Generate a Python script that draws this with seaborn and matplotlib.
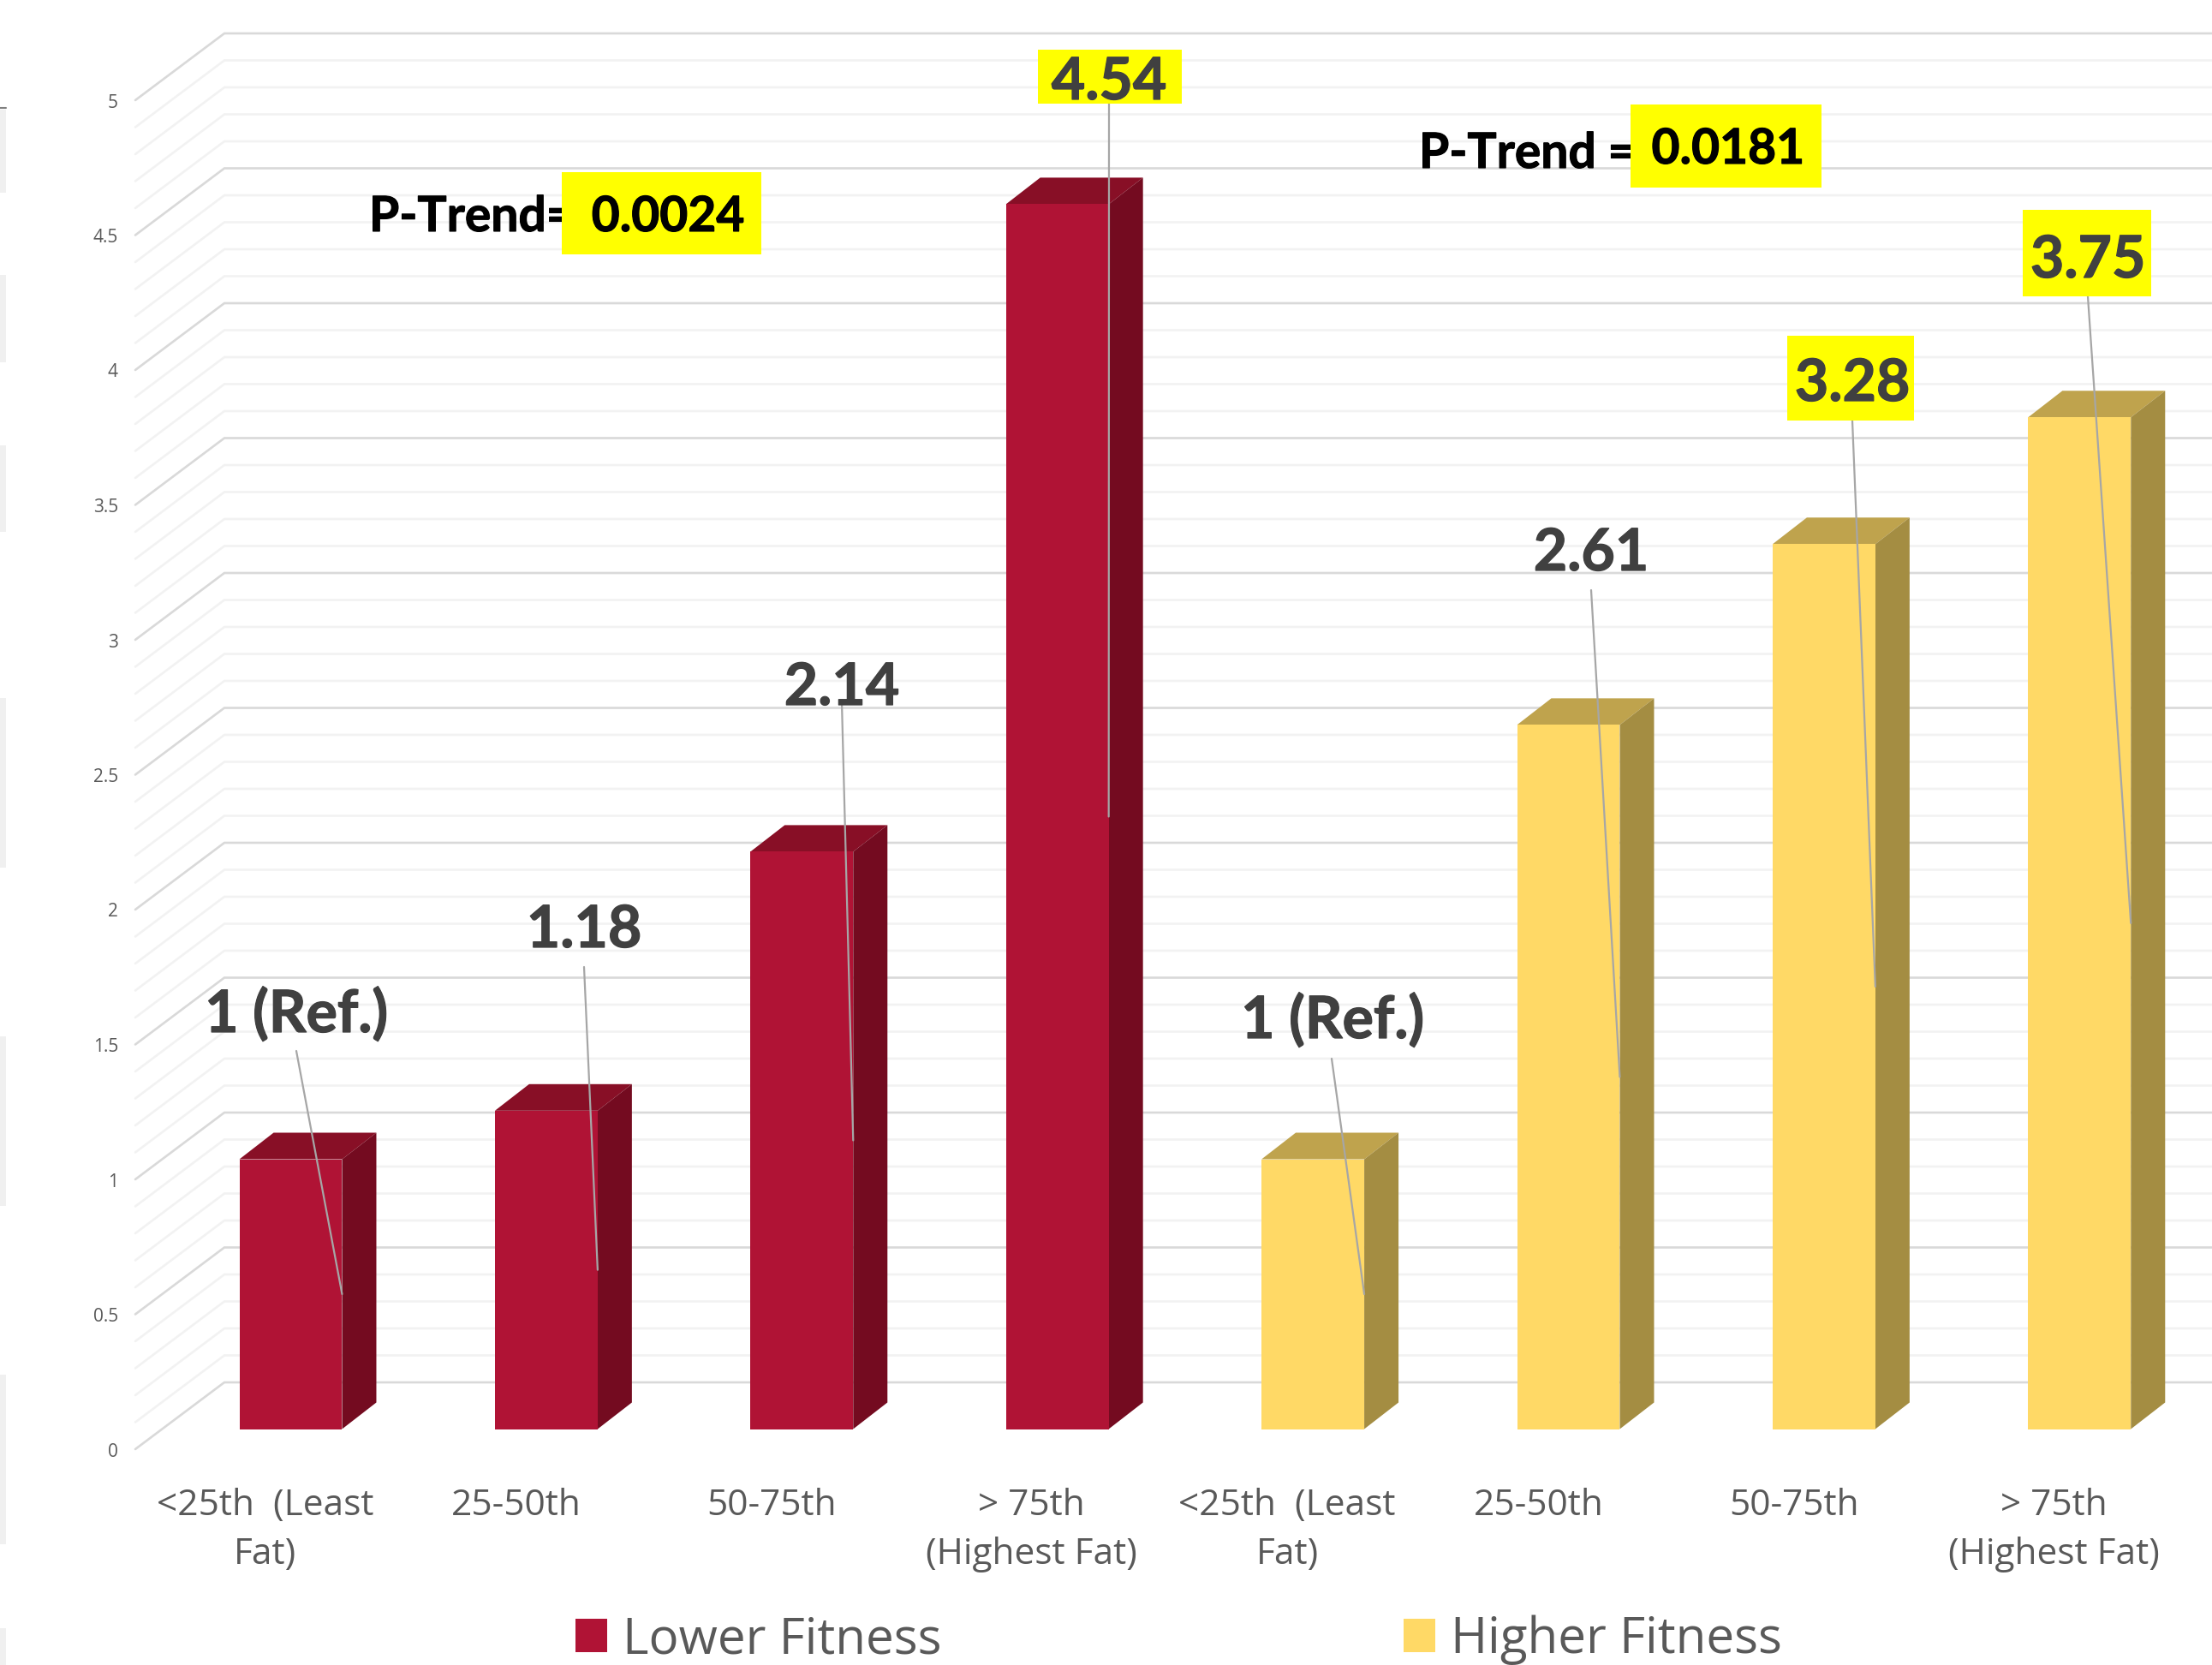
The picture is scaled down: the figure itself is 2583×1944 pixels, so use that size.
import matplotlib
matplotlib.use("Agg")
import matplotlib.pyplot as plt
import matplotlib.patheffects as path_effects
import matplotlib.transforms as mtransforms
from matplotlib.patches import Rectangle
import numpy as np
import pandas as pd
import seaborn as sns

# Chart values
positions = ["q1_low", "q2_low", "q3_low", "q4_low", "q1_high", "q2_high", "q3_high", "q4_high"]
tick_labels = ["<25th  (Least\nFat)", "25-50th", "50-75th", "> 75th\n(Highest Fat)",
               "<25th  (Least\nFat)", "25-50th", "50-75th", "> 75th\n(Highest Fat)"]
odds_ratios = [1, 1.18, 2.14, 4.54, 1, 2.61, 3.28, 3.75]
fitness = ["Lower Fitness"] * 4 + ["Higher Fitness"] * 4
value_labels = ["1 (Ref.)", "1.18", "2.14", "4.54", "1 (Ref.)", "2.61", "3.28", "3.75"]
y_tick_values = [0, 0.5, 1, 1.5, 2, 2.5, 3, 3.5, 4, 4.5, 5]
y_tick_labels = ["0", "0.5", "1", "1.5", "2", "2.5", "3", "3.5", "4", "4.5", "5"]
p_trend_low = "0.0024"
p_trend_high = "0.0181"

W, H = 2583, 1944
BASE_Y = 1668.5    # pixel row of the zero level on the front plane
UNIT_Y = 315.0     # pixels per unit of value
ORIGIN_X = 339.5   # pixel column of the first category
UNIT_X = 298.4     # pixels per category


def dx(p):
    return (p - ORIGIN_X) / UNIT_X


def dy(p):
    return (BASE_Y - p) / UNIT_Y


def fx(x, y):
    return x / W, 1 - y / H


FRONT = {"Lower Fitness": "#B01335", "Higher Fitness": "#FFD966"}
TOP = {"Lower Fitness": "#880F26", "Higher Fitness": "#BFA34D"}
SIDE = {"Lower Fitness": "#740B20", "Higher Fitness": "#A48D42"}
BODY = "Open Sans"
HEAD = "Lato"
TICK_GREY = "#595959"
THICKEN = [path_effects.withStroke(linewidth=0.9, foreground="#404040")]
THICKEN_BLACK = [path_effects.withStroke(linewidth=0.8, foreground="black")]

sns.set_theme(style="white", rc={"axes.facecolor": "none"})
plt.rcParams["font.family"] = [BODY, "DejaVu Sans"]

fig = plt.figure(figsize=(W / 100, H / 100), dpi=100, facecolor="white")
ax = fig.add_axes([0, (H - BASE_Y) / H, 1, BASE_Y / H])

df = pd.DataFrame({"position": positions, "odds": odds_ratios, "fitness": fitness})
sns.barplot(data=df, x="position", y="odds", hue="fitness", palette=FRONT, order=positions,
            hue_order=["Lower Fitness", "Higher Fitness"], dodge=False, width=0.402,
            saturation=1, errorbar=None, ax=ax, zorder=3, legend=True, linewidth=0)
ax.set_xlim(dx(0), dx(W))
ax.set_ylim(0, BASE_Y / UNIT_Y)
ax.set_xlabel("")
ax.set_ylabel("")

# Floor and back wall of the 3-D frame
for level in np.arange(0, 51) / 10:
    major = int(round(level * 10)) % 5 == 0
    ax.plot([dx(158), dx(262), dx(W)],
            [dy(1692) + level, dy(1614) + level, dy(1614) + level],
            color="#D9D9D9" if major else "#F2F2F2", lw=1.9, zorder=1,
            clip_on=False, solid_joinstyle="miter")

# Depth faces on each bar
depth_x, depth_y = 40 / UNIT_X, 31 / UNIT_Y
bars = [b for c in ax.containers for b in c if b.get_height() > 0]
bars.sort(key=lambda b: b.get_x())
for bar, group in zip(bars, fitness):
    x0, x1, h = bar.get_x(), bar.get_x() + bar.get_width(), bar.get_height()
    ax.fill([x0, x0 + depth_x, x1 + depth_x, x1], [h, h + depth_y, h + depth_y, h],
            color=TOP[group], lw=0, zorder=2)
    ax.fill([x1, x1 + depth_x, x1 + depth_x, x1], [0, depth_y, h + depth_y, h],
            color=SIDE[group], lw=0, zorder=2.5)

# Value labels with their leader lines
label_cx = [346, 682, 983, 1295, 1556, 1858, 2163, 2438]
label_base = [1205, 1106, 823, 116, 1212, 666, 468, 324]
leader_start = [(346, 1227), (682, 1129), (983, 820), (1295, 121),
                (1555, 1236), (1858, 689), (2163, 491), (2438, 346)]
label_boxes = {3: (1212, 58, 1380, 121), 6: (2087, 392, 2235, 491), 7: (2362, 245, 2512, 346)}
for i, (bar, text) in enumerate(zip(bars, value_labels)):
    right = bar.get_x() + bar.get_width()
    sx, sy = leader_start[i]
    ax.plot([dx(sx), right], [dy(sy), bar.get_height() / 2], color="#A6A6A6", lw=1.6, zorder=5)
    if i in label_boxes:
        l, t, r, b = label_boxes[i]
        ax.add_patch(Rectangle((dx(l), dy(b)), dx(r) - dx(l), dy(t) - dy(b),
                               fc="#FFFF00", ec="none", zorder=6))
    ax.text(dx(label_cx[i]), dy(label_base[i]), text, ha="center", va="baseline",
            family=HEAD, weight="bold", fontsize=49, color="#404040", zorder=7,
            path_effects=THICKEN)

# P-trend annotations; the highlight box sits over the end of the stem text
for box, base, value_base, cx, left, stem, value in [
        ((656, 201, 889, 297), 270, 270, 780, 431, "P-Trend=", p_trend_low),
        ((1904, 122, 2127, 219), 196, 191, 2018, 1657, "P-Trend =", p_trend_high)]:
    l, t, r, b = box
    ax.add_patch(Rectangle((dx(l), dy(b)), dx(r) - dx(l), dy(t) - dy(b),
                           fc="#FFFF00", ec="none", zorder=6))
    ax.text(dx(cx), dy(value_base), value, ha="center", va="baseline", family=HEAD,
            weight="bold", fontsize=41, color="black", zorder=7, path_effects=THICKEN_BLACK)
    ax.text(dx(left), dy(base), stem, ha="left", va="baseline", family=HEAD,
            weight="bold", fontsize=41, color="black", zorder=5.5, path_effects=THICKEN_BLACK)

# Axes, ticks and labels
sns.despine(ax=ax, left=True, bottom=True)
ax.spines["left"].set_position(("data", dx(138)))
ax.set_yticks(y_tick_values, y_tick_labels)
ax.set_xticks(range(len(positions)), tick_labels)
ax.tick_params(axis="y", length=0, pad=0, labelsize=15, labelcolor=TICK_GREY)
ax.tick_params(axis="x", length=0, pad=49, labelsize=30.5, labelcolor=TICK_GREY)
for label in ax.get_yticklabels():
    label.set_transform(label.get_transform()
                        + mtransforms.ScaledTranslation(0, -0.24, fig.dpi_scale_trans))
for label, text in zip(ax.get_xticklabels(), tick_labels):
    shift = -0.30 if "\n" in text else -0.35
    label.set_transform(label.get_transform()
                        + mtransforms.ScaledTranslation(shift, 0, fig.dpi_scale_trans))
    label.set_linespacing(1.48)

# Legend along the bottom edge
handles, names = ax.get_legend_handles_labels()
ax.get_legend().remove()
fig.legend(handles, names, ncol=2, frameon=False, loc="lower left",
           bbox_to_anchor=fx(672, 1944), borderpad=0, borderaxespad=0,
           fontsize=42, labelcolor=TICK_GREY, handlelength=0.63, handleheight=0.63,
           handletextpad=0.31, columnspacing=9.25)

# Light strips and short rule down the left edge of the canvas
strips = [(128, 225), (321, 423), (520, 621), (815, 1013), (1210, 1408), (1605, 1803), (1901, 1944)]
for top, bottom in strips:
    fig.patches.append(Rectangle(fx(0, bottom), 7 / W, (bottom - top) / H, fc="#F0F0F0",
                                 ec="none", transform=fig.transFigure, figure=fig))
fig.lines.append(plt.Line2D([0, 7 / W], [1 - 126 / H] * 2, color="#808080", lw=1.5,
                            transform=fig.transFigure, figure=fig))

fig.savefig("out.png", dpi=100, facecolor="white")
